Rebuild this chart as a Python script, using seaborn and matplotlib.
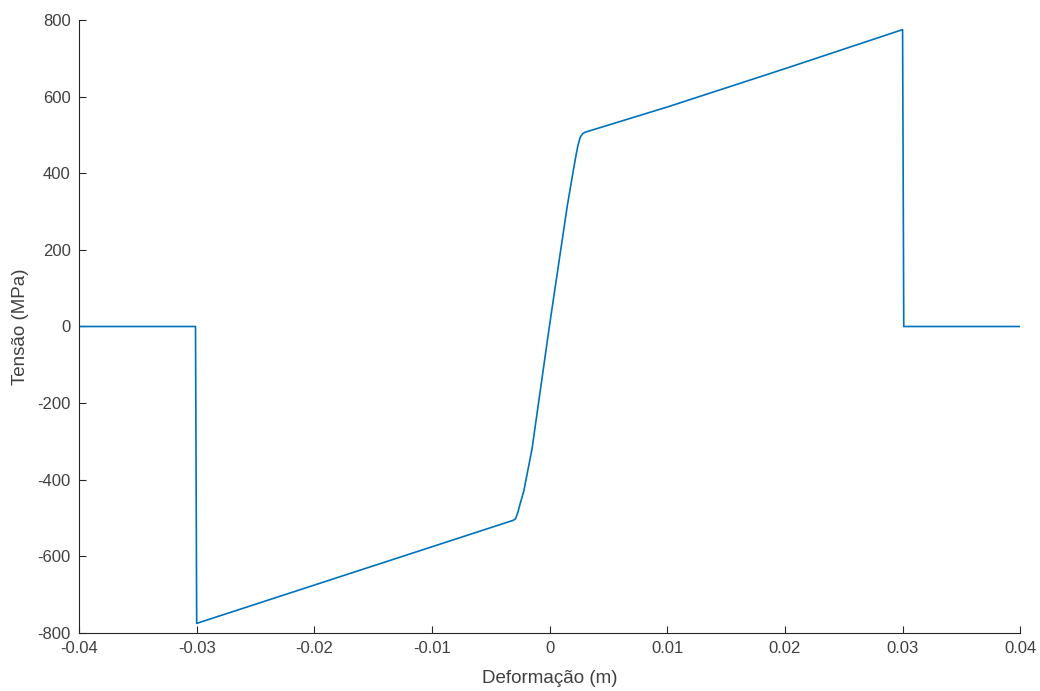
import matplotlib
matplotlib.use("Agg")
import matplotlib.pyplot as plt
import seaborn as sns
import pandas as pd

strain = [-0.04, -0.0301, -0.0300, -0.0200, -0.0100, -0.0040, -0.0031, -0.0029,
          -0.0027, -0.0025, -0.0022, -0.0015, 0.0, 0.0015, 0.0020, 0.0022, 0.0024,
          0.0026, 0.0028, 0.0030, 0.0100, 0.0200, 0.0300, 0.0301, 0.04]
stress = [0, 0, -775, -675, -575, -515, -506, -502,
          -485, -462, -430, -320, 5, 315, 405, 440, 472,
          494, 503, 507, 573, 673, 775, 0, 0]

xticks = [-0.04, -0.03, -0.02, -0.01, 0, 0.01, 0.02, 0.03, 0.04]
xticklabels = ["-0.04", "-0.03", "-0.02", "-0.01", "0", "0.01", "0.02", "0.03", "0.04"]
yticks = [-800, -600, -400, -200, 0, 200, 400, 600, 800]
yticklabels = ["-800", "-600", "-400", "-200", "0", "200", "400", "600", "800"]

df = pd.DataFrame({"Deformação (m)": strain, "Tensão (MPa)": stress})

sns.set_style("ticks")
plt.rcParams["font.family"] = ["Liberation Sans", "DejaVu Sans"]
plt.rcParams["axes.unicode_minus"] = False

fig = plt.figure(figsize=(10.4, 6.91), dpi=100)
ax = fig.add_axes([0.076, 0.084, 0.905, 0.887])
sns.lineplot(data=df, x="Deformação (m)", y="Tensão (MPa)", sort=False,
             estimator=None, color="#0072BD", linewidth=1.2, ax=ax)

ax.set_xlim(-0.04, 0.04)
ax.set_ylim(-800, 800)
ax.set_xticks(xticks)
ax.set_xticklabels(xticklabels)
ax.set_yticks(yticks)
ax.set_yticklabels(yticklabels)
ax.tick_params(direction="in", length=5, width=0.8, colors="#262626",
               labelcolor="#404040", labelsize=12, pad=6)
for s in ["top", "right"]:
    ax.spines[s].set_visible(False)
for s in ["left", "bottom"]:
    ax.spines[s].set_color("#262626")
    ax.spines[s].set_linewidth(0.8)
ax.set_xlabel("Deformação (m)", fontsize=13.5, color="#404040", labelpad=10)
ax.set_ylabel("Tensão (MPa)", fontsize=13.5, color="#404040", labelpad=6)

fig.savefig("out.png", dpi=100, facecolor="white")
